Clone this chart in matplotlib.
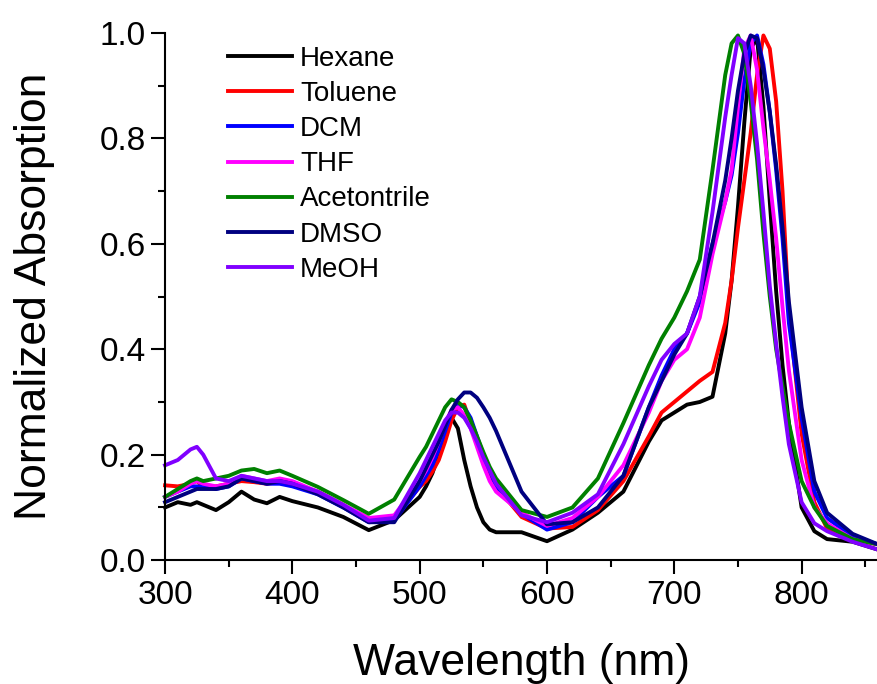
import matplotlib
matplotlib.use("Agg")
import matplotlib.pyplot as plt
from matplotlib.ticker import MultipleLocator

plt.rcParams['font.family'] = ['Liberation Sans', 'DejaVu Sans']

# wavelength grid (nm)
wl = [300, 310, 320, 325, 330, 340, 350, 360, 370, 380, 390, 400, 420, 440, 460, 480,
      500, 505, 510, 515, 520, 525, 530, 535, 540, 545, 550, 555, 560,
      580, 600, 620, 640, 660, 680, 690, 700, 710, 720, 730, 740,
      745, 750, 755, 760, 765, 770, 775, 780, 785, 790, 800, 810, 820, 840, 860]

# normalized absorption
hexane = [0.10, 0.11, 0.105, 0.11, 0.105, 0.095, 0.11, 0.13, 0.115, 0.108, 0.12, 0.112, 0.10, 0.082, 0.057, 0.076,
          0.12, 0.14, 0.165, 0.20, 0.235, 0.27, 0.25, 0.19, 0.14, 0.10, 0.072, 0.058, 0.053,
          0.053, 0.036, 0.058, 0.09, 0.13, 0.225, 0.265, 0.28, 0.295, 0.30, 0.31, 0.43,
          0.53, 0.67, 0.83, 0.97, 0.99, 0.86, 0.68, 0.51, 0.37, 0.26, 0.10, 0.055, 0.04, 0.035, 0.02]
toluene = [0.142, 0.14, 0.145, 0.15, 0.14, 0.14, 0.145, 0.15, 0.148, 0.145, 0.148, 0.145, 0.13, 0.105, 0.075, 0.08,
           0.139, 0.15, 0.168, 0.19, 0.225, 0.265, 0.29, 0.295, 0.26, 0.22, 0.19, 0.165, 0.14,
           0.082, 0.06, 0.063, 0.095, 0.15, 0.235, 0.28, 0.30, 0.32, 0.34, 0.357, 0.45,
           0.53, 0.63, 0.72, 0.81, 0.92, 0.995, 0.97, 0.87, 0.70, 0.47, 0.24, 0.11, 0.06, 0.04, 0.03]
dcm = [0.12, 0.13, 0.14, 0.14, 0.14, 0.135, 0.14, 0.155, 0.15, 0.145, 0.145, 0.14, 0.125, 0.10, 0.072, 0.075,
       0.14, 0.16, 0.18, 0.21, 0.245, 0.28, 0.295, 0.29, 0.27, 0.235, 0.20, 0.17, 0.14,
       0.088, 0.058, 0.072, 0.12, 0.16, 0.29, 0.35, 0.40, 0.43, 0.49, 0.60, 0.68,
       0.73, 0.81, 0.91, 0.98, 0.995, 0.94, 0.85, 0.74, 0.61, 0.45, 0.27, 0.13, 0.08, 0.045, 0.03]
thf = [0.12, 0.13, 0.145, 0.15, 0.145, 0.14, 0.145, 0.16, 0.155, 0.15, 0.155, 0.15, 0.13, 0.105, 0.08, 0.085,
       0.15, 0.17, 0.195, 0.225, 0.26, 0.285, 0.29, 0.275, 0.25, 0.215, 0.18, 0.15, 0.13,
       0.09, 0.065, 0.08, 0.12, 0.18, 0.28, 0.34, 0.38, 0.40, 0.46, 0.58, 0.68,
       0.74, 0.86, 0.97, 0.995, 0.93, 0.82, 0.72, 0.61, 0.48, 0.36, 0.19, 0.10, 0.07, 0.04, 0.03]
acn = [0.12, 0.135, 0.15, 0.155, 0.15, 0.155, 0.16, 0.17, 0.173, 0.165, 0.17, 0.16, 0.139, 0.114, 0.088, 0.115,
       0.196, 0.215, 0.24, 0.265, 0.29, 0.305, 0.30, 0.29, 0.265, 0.235, 0.205, 0.177, 0.155,
       0.095, 0.082, 0.10, 0.155, 0.26, 0.37, 0.42, 0.46, 0.51, 0.57, 0.74, 0.92,
       0.98, 0.995, 0.96, 0.87, 0.76, 0.62, 0.50, 0.40, 0.33, 0.26, 0.15, 0.10, 0.065, 0.04, 0.03]
dmso = [0.11, 0.12, 0.13, 0.135, 0.135, 0.135, 0.14, 0.155, 0.15, 0.145, 0.15, 0.145, 0.125, 0.10, 0.072, 0.072,
        0.15, 0.175, 0.20, 0.225, 0.255, 0.285, 0.305, 0.318, 0.318, 0.308, 0.29, 0.27, 0.245,
        0.13, 0.068, 0.072, 0.10, 0.16, 0.29, 0.34, 0.39, 0.43, 0.50, 0.60, 0.72,
        0.80, 0.89, 0.96, 0.995, 0.99, 0.93, 0.85, 0.75, 0.63, 0.49, 0.29, 0.15, 0.09, 0.05, 0.03]
meoh = [0.18, 0.19, 0.21, 0.215, 0.20, 0.155, 0.15, 0.16, 0.155, 0.15, 0.15, 0.145, 0.13, 0.105, 0.075, 0.08,
        0.165, 0.19, 0.215, 0.24, 0.265, 0.28, 0.28, 0.27, 0.25, 0.225, 0.195, 0.17, 0.145,
        0.085, 0.072, 0.09, 0.125, 0.22, 0.33, 0.38, 0.41, 0.43, 0.50, 0.66, 0.84,
        0.92, 0.99, 0.98, 0.90, 0.79, 0.66, 0.52, 0.41, 0.31, 0.22, 0.11, 0.07, 0.055, 0.035, 0.02]

labels = ['Hexane', 'Toluene', 'DCM', 'THF', 'Acetontrile', 'DMSO', 'MeOH']
colors = ['#000000', '#FF0000', '#0000FF', '#FF00FF', '#008000', '#000080', '#8000FF']
series = [hexane, toluene, dcm, thf, acn, dmso, meoh]

fig = plt.figure(figsize=(8.78, 6.84), dpi=100)
ax = fig.add_axes([0.188, 0.181, 0.812, 0.771])

for ys, lab, c in zip(series, labels, colors):
    ax.plot(wl, ys, color=c, lw=2.8, label=lab, clip_on=False)

ax.set_xlim(300, 860)
ax.set_ylim(0, 1.0)
ax.xaxis.set_major_locator(MultipleLocator(100))
ax.xaxis.set_minor_locator(MultipleLocator(50))
ax.yaxis.set_major_locator(MultipleLocator(0.2))
ax.yaxis.set_minor_locator(MultipleLocator(0.1))
ax.yaxis.set_major_formatter(plt.FuncFormatter(lambda v, p: f"{v:.1f}"))

for s in ['top', 'right']:
    ax.spines[s].set_visible(False)
for s in ['left', 'bottom']:
    ax.spines[s].set_linewidth(1.5)

ax.tick_params(which='major', direction='out', length=10, width=1.5, labelsize=24, pad=4)
ax.tick_params(which='minor', direction='out', length=5, width=1.5)

ax.set_xlabel('Wavelength (nm)', fontsize=32, labelpad=23)
ax.set_ylabel('Normalized Absorption', fontsize=32, labelpad=32)

ax.legend(loc='upper left', bbox_to_anchor=(0.2597, 0.933), bbox_transform=fig.transFigure,
          frameon=False, fontsize=20, handlelength=2.3, handletextpad=0.3,
          labelspacing=0.33, borderpad=0, borderaxespad=0)

fig.savefig('out.png', dpi=100)
